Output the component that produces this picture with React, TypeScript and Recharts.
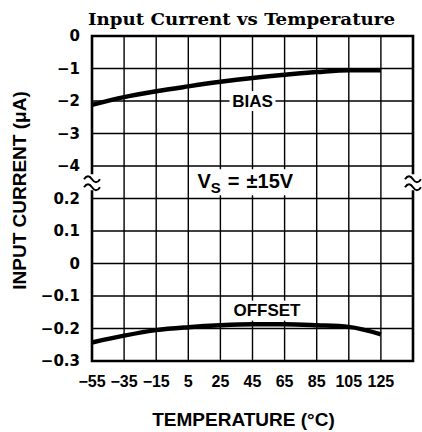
import React from 'react';
import { LineChart, Line, XAxis, YAxis, CartesianGrid, ReferenceArea, ReferenceDot } from 'recharts';

const temperatures = [-55, -35, -15, 5, 25, 45, 65, 85, 105, 125];
const biasCurrent = [-2.12, -1.88, -1.7, -1.55, -1.41, -1.29, -1.19, -1.11, -1.05, -1.05];
const offsetCurrent = [-0.243, -0.222, -0.205, -0.196, -0.19, -0.187, -0.187, -0.19, -0.195, -0.218];
const xTicks = [-55, -35, -15, 5, 25, 45, 65, 85, 105, 125, 145];
const yTickLabels = ['−0.3', '−0.2', '−0.1', '0', '0.1', '0.2', '−4', '−3', '−2', '−1', '0'];

// broken y axis: rows 0-5 hold offset (-0.3..0.2 µA), rows 6-10 hold bias (-4..0 µA)
const biasRow = (v: number) => 10 + v;
const offsetRow = (v: number) => (v + 0.3) * 10;

const data = temperatures.map((t, i) => ({
    t,
    bias: biasRow(biasCurrent[i]),
    offset: offsetRow(offsetCurrent[i]),
}));

const sans = 'Liberation Sans, Arial, sans-serif';

const boxLabel = (text: string, w: number, h: number, fontSize: number) => (props: any) => (
    <g>
        <rect x={props.cx - w / 2} y={props.cy - h / 2} width={w} height={h} fill="#fff" />
        <text x={props.cx} y={props.cy} textAnchor="middle" dominantBaseline="central"
            fontSize={fontSize} fontWeight="bold" fontFamily={sans} fill="#000">{text}</text>
    </g>
);

const VsLabel = (props: any) => {
    const { cx, cy } = props;
    return (
        <g>
            <rect x={cx - 60} y={cy - 13} width={118} height={26} fill="#fff" />
            <text x={cx - 55} y={cy + 6} fontSize={20} fontWeight="bold" fontFamily={sans} fill="#000">
                <tspan>V</tspan>
                <tspan dy={5} fontSize={15}>S</tspan>
                <tspan dy={-5} dx={7}>=</tspan>
                <tspan dx={7}>±15V</tspan>
            </text>
        </g>
    );
};

const BreakMark = (props: any) => {
    const { cx, cy } = props;
    const wave = (dy: number) => `M${cx - 8},${cy + dy} q4,-6 8,0 t8,0`;
    return (
        <g>
            <rect x={cx - 3} y={cy - 8} width={6} height={16} fill="#fff" />
            <path d={wave(-3)} fill="none" stroke="#000" strokeWidth={2} />
            <path d={wave(5)} fill="none" stroke="#000" strokeWidth={2} />
        </g>
    );
};

const App = () => {
    return (
        <div style={{ position: 'absolute', left: 0, top: 0, width: 422, height: 432, background: '#fff' }}>
            <svg width={422} height={36} style={{ position: 'absolute', left: 0, top: 0 }}>
                <text x={241.5} y={25} textAnchor="middle" fontSize={16} fontWeight="bold"
                    fontFamily="DejaVu Serif, serif" textLength={307} lengthAdjust="spacingAndGlyphs">
                    Input Current vs Temperature
                </text>
            </svg>
            <LineChart
                width={422}
                height={432}
                data={data}
                margin={{ top: 36, right: 9, left: 0, bottom: 0 }}
            >
                <CartesianGrid stroke="#000" strokeWidth={1.4} />
                <XAxis
                    dataKey="t"
                    type="number"
                    domain={[-55, 145]}
                    ticks={xTicks}
                    tickFormatter={(v) => (v === 145 ? '' : String(v).replace('-', '−'))}
                    tick={{ fontSize: 16, fontWeight: 'bold', fontFamily: sans, fill: '#000' }}
                    tickLine={false}
                    axisLine={false}
                    tickSize={0}
                    tickMargin={15}
                    height={71}
                    label={{ value: 'TEMPERATURE (°C)', position: 'insideBottom', offset: 6, dx: -9,
                        style: { fontSize: 19, fontWeight: 'bold', fontFamily: sans, fill: '#000' } }}
                />
                <YAxis
                    type="number"
                    domain={[0, 10]}
                    ticks={[0, 1, 2, 3, 4, 5, 6, 7, 8, 9, 10]}
                    tickFormatter={(v) => yTickLabels[v]}
                    tick={{ fontSize: 15, fontWeight: 'bold', fontFamily: 'DejaVu Sans, sans-serif', fill: '#000' }}
                    tickLine={false}
                    axisLine={false}
                    tickSize={0}
                    tickMargin={12}
                    width={92}
                    label={{ value: 'INPUT CURRENT (μA)', angle: -90, position: 'center', dx: -27, dy: -8,
                        style: { fontSize: 19, fontWeight: 'bold', fontFamily: sans, fill: '#000', textAnchor: 'middle' } }}
                />
                <ReferenceArea x1={-55} x2={145} y1={0} y2={10} fill="none" stroke="#000" strokeWidth={2.6} ifOverflow="visible" />
                <Line type="monotone" dataKey="bias" stroke="#000" strokeWidth={4.5} dot={false} isAnimationActive={false} />
                <Line type="monotone" dataKey="offset" stroke="#000" strokeWidth={4.5} dot={false} isAnimationActive={false} />
                <ReferenceDot x={45} y={8} ifOverflow="visible" shape={boxLabel('BIAS', 46, 20, 17)} />
                <ReferenceDot x={54} y={1.55} ifOverflow="visible" shape={boxLabel('OFFSET', 74, 20, 17)} />
                <ReferenceDot x={45} y={5.5} ifOverflow="visible" shape={VsLabel} />
                <ReferenceDot x={-55} y={5.5} ifOverflow="visible" shape={BreakMark} />
                <ReferenceDot x={145} y={5.5} ifOverflow="visible" shape={BreakMark} />
            </LineChart>
        </div>
    );
};

export default App;
